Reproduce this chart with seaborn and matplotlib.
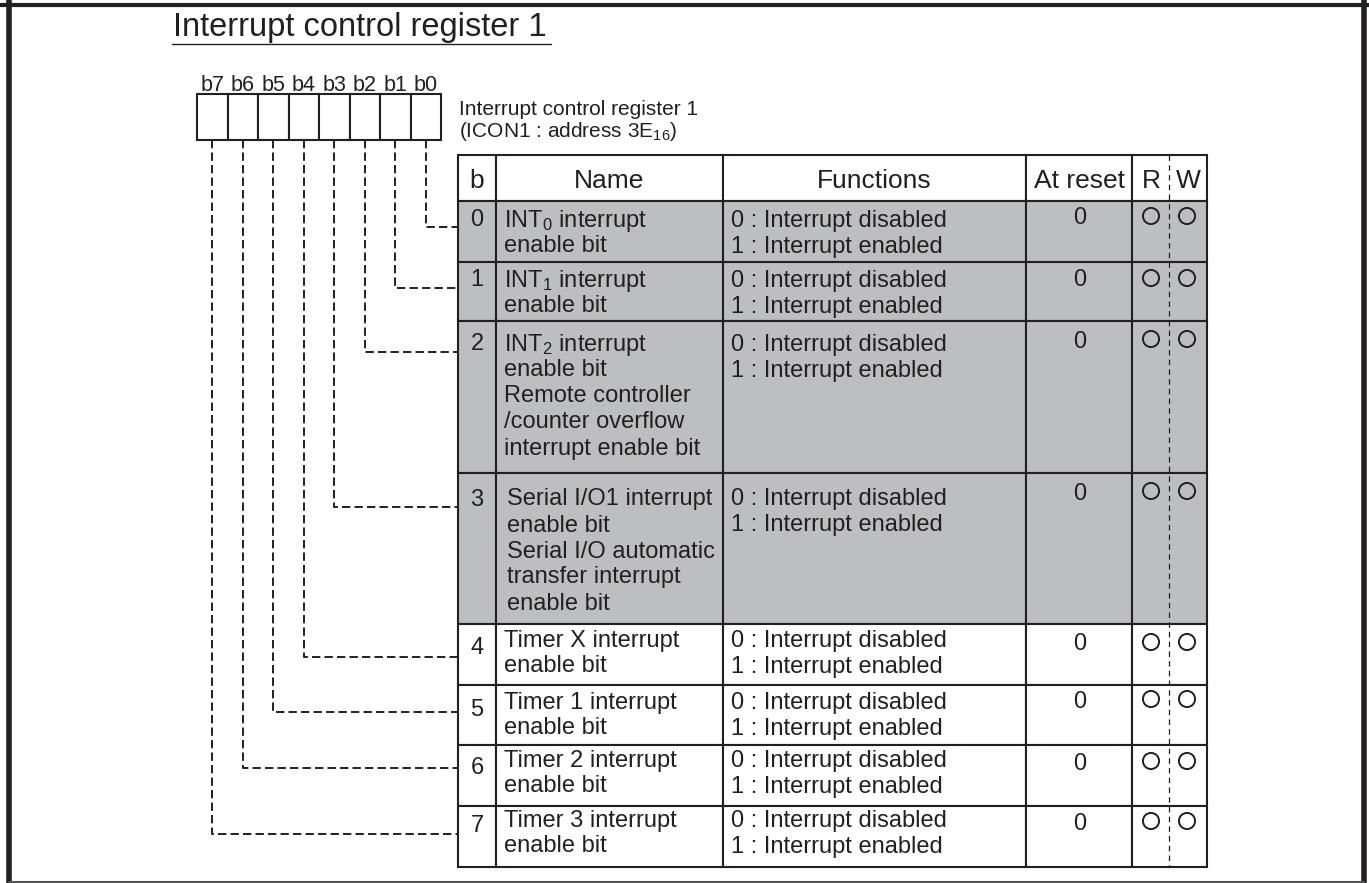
import matplotlib
matplotlib.use("Agg")
import matplotlib.pyplot as plt
import seaborn as sns
import numpy as np
import pandas as pd
from matplotlib.patches import Rectangle

# register contents
title = "Interrupt control register 1"
reg_caption = ["Interrupt control register 1", "(ICON1 : address 3E$_{16}$)"]
bit_labels = ["b7", "b6", "b5", "b4", "b3", "b2", "b1", "b0"]
headers = ["b", "Name", "Functions", "At reset", "R", "W"]
bit_numbers = ["0", "1", "2", "3", "4", "5", "6", "7"]
bit_names = [
    ["INT$_{0}$ interrupt", "enable bit"],
    ["INT$_{1}$ interrupt", "enable bit"],
    ["INT$_{2}$ interrupt", "enable bit", "Remote controller",
     "/counter overflow", "interrupt enable bit"],
    ["Serial I/O1 interrupt", "enable bit", "Serial I/O automatic",
     "transfer interrupt", "enable bit"],
    ["Timer X interrupt", "enable bit"],
    ["Timer 1 interrupt", "enable bit"],
    ["Timer 2 interrupt", "enable bit"],
    ["Timer 3 interrupt", "enable bit"],
]
bit_functions = [["0 : Interrupt disabled", "1 : Interrupt enabled"]] * 8
reset_values = ["0"] * 8
readable = [True] * 8
writable = [True] * 8
shaded = [True, True, True, True, False, False, False, False]

sns.set_theme(style="white")
plt.rcParams["font.family"] = ["Liberation Sans", "DejaVu Sans"]
plt.rcParams["mathtext.default"] = "regular"
plt.rcParams["lines.scale_dashes"] = False

ink = "#231f20"
grey = "#bcbec0"
W, H = 1369, 883

# layout (pixels)
col_edges = [458, 496, 723, 1026, 1132, 1207]
rw_split = 1169
head_top, head_bot = 155, 201
row_heights = [61, 59, 152, 151, 61, 60, 61, 61]
row_tops = head_bot + np.concatenate([[0], np.cumsum(row_heights)])
first_line = [17, 16, 21, 24, 14, 15, 13, 12]
num_off = [17, 16, 21, 24, 21, 22, 20, 17]
mark_off = [15, 16, 18, 18, 18, 14, 16, 15]
leader_off = [26, 26, 31, 34, 33, 27, 23, 28]
line_gap = 26
box_left, box_w, box_top, box_bot = 197, 30.5, 94, 140

body = 17
head = 19
cap_body = 8.5
cap_head = 9.5

fig = plt.figure(figsize=(13.69, 8.83), dpi=100)
ax = fig.add_axes([0, 0, 1, 1])
ax.set_xlim(0, W)
ax.set_ylim(H, 0)
ax.axis("off")

# outer frame
ax.plot([0, W], [5, 5], color=ink, lw=3)
ax.plot([9, 9], [0, H], color=ink, lw=4)
ax.plot([1364, 1364], [0, H], color=ink, lw=4)
ax.plot([9, 1364], [882, 882], color="#555555", lw=1.5)

# title
ax.text(173, 36, title, fontsize=23.5, color=ink, va="baseline", ha="left")
ax.plot([172, 551], [44, 44], color=ink, lw=1)

# bit boxes
centers = box_left + box_w * (np.arange(8) + 0.5)
for i, lab in enumerate(bit_labels):
    ax.add_patch(Rectangle((box_left + box_w * i, box_top), box_w, box_bot - box_top,
                           facecolor="white", edgecolor=ink, lw=1.5))
    ax.text(centers[i], 91, lab, fontsize=15.5, color=ink, ha="center", va="baseline")

ax.text(459, 115, reg_caption[0], fontsize=15, color=ink, va="baseline")
ax.text(459, 137, reg_caption[1], fontsize=15, color=ink, va="baseline")

# leader lines from bit boxes to table rows
dash = (0, (6, 3))
for i in range(8):
    row = 7 - i
    ly = row_tops[row] + leader_off[row]
    ax.plot([centers[i], centers[i], col_edges[0]], [box_bot, ly, ly],
            color=ink, lw=1.4, linestyle=dash)

# header row
for c in range(4):
    ax.add_patch(Rectangle((col_edges[c], head_top), col_edges[c + 1] - col_edges[c],
                           head_bot - head_top, facecolor="white", edgecolor=ink, lw=1.5))
ax.add_patch(Rectangle((col_edges[4], head_top), col_edges[5] - col_edges[4],
                       head_bot - head_top, facecolor="white", edgecolor=ink, lw=1.5))
hy = (head_top + head_bot) / 2 + cap_head
head_x = [(col_edges[0] + col_edges[1]) / 2, (col_edges[1] + col_edges[2]) / 2,
          (col_edges[2] + col_edges[3]) / 2, (col_edges[3] + col_edges[4]) / 2,
          (col_edges[4] + rw_split) / 2 + 1, (rw_split + col_edges[5]) / 2]
for hx, h in zip(head_x, headers):
    ax.text(hx, hy, h, fontsize=head, color=ink, ha="center", va="baseline")

# body rows
for r in range(8):
    top = row_tops[r]
    ht = row_heights[r]
    fc = grey if shaded[r] else "white"
    for c in range(4):
        ax.add_patch(Rectangle((col_edges[c], top), col_edges[c + 1] - col_edges[c], ht,
                               facecolor=fc, edgecolor=ink, lw=1.5))
    ax.add_patch(Rectangle((col_edges[4], top), col_edges[5] - col_edges[4], ht,
                           facecolor=fc, edgecolor=ink, lw=1.5))
    ax.text(477, top + num_off[r] + cap_body, bit_numbers[r], fontsize=body,
            color=ink, ha="center", va="baseline")
    nx = 507 if r == 3 else 504
    for k, line in enumerate(bit_names[r]):
        ax.text(nx, top + first_line[r] + k * line_gap + cap_body, line,
                fontsize=body, color=ink, va="baseline")
    for k, line in enumerate(bit_functions[r]):
        ax.text(731, top + first_line[r] + k * line_gap + cap_body, line,
                fontsize=body, color=ink, va="baseline")
    ax.text(1080, top + mark_off[r] + cap_body, reset_values[r], fontsize=body,
            color=ink, ha="center", va="baseline")

# R / W split
ax.plot([rw_split, rw_split], [head_top, row_tops[-1]], color=ink, lw=0.9,
        linestyle=(0, (4, 3)))

# access marks
marks = pd.DataFrame({
    "x": [1151] * 8 + [1187] * 8,
    "y": [row_tops[r] + mark_off[r] for r in range(8)] * 2,
    "ok": readable + writable,
})
marks = marks[marks["ok"]]
sns.scatterplot(data=marks, x="x", y="y", ax=ax, marker="o", s=135,
                color=ink, facecolor="none", edgecolor=ink, linewidth=1.4, zorder=5,
                legend=False)

ax.set_xlim(0, W)
ax.set_ylim(H, 0)
ax.axis("off")
fig.savefig("out.png", dpi=100)
